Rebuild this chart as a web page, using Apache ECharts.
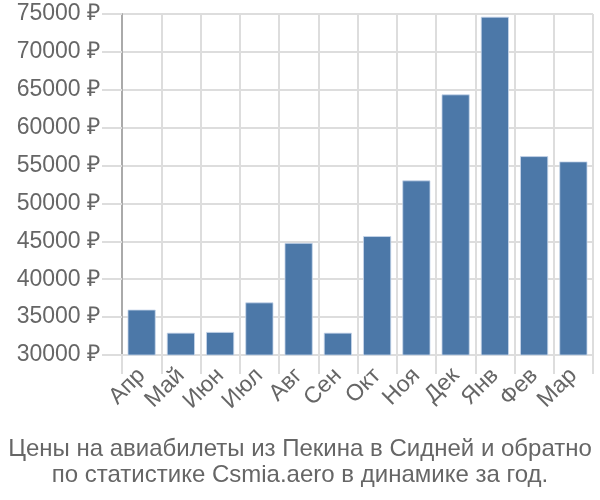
<!DOCTYPE html>
<html><head><meta charset="utf-8">
<script src="https://cdn.jsdelivr.net/npm/echarts@6/dist/echarts.min.js"></script>
<style>html,body{margin:0;padding:0;background:#fff}#c{width:600px;height:500px}</style>
</head><body><div id="c"></div>
<script>
const categories = ['Апр','Май','Июн','Июл','Авг','Сен','Окт','Ноя','Дек','Янв','Фев','Мар'];
const prices = [36000, 32950, 33050, 36950, 44800, 32950, 45700, 53050, 64400, 74650, 56250, 55550];
const titleLines = ['Цены на авиабилеты из Пекина в Сидней и обратно', 'по статистике Csmia.aero в динамике за год.'];
const yMin = 30000, yMax = 75000, yStep = 5000;

const chart = echarts.init(document.getElementById('c'));
chart.setOption({
  animation: false,
  title: {
    text: titleLines.join('\n'),
    left: 'center', top: 431,
    textStyle: { fontFamily: 'Liberation Sans', fontSize: 24, fontWeight: 'normal', color: '#666', lineHeight: 26 }
  },
  grid: { left: 122, right: 7, top: 14, bottom: 145, containLabel: false },
  xAxis: {
    type: 'category', data: categories, boundaryGap: true,
    axisLine: { show: true, lineStyle: { color: '#ddd', width: 2 } },
    axisTick: { show: true, length: 19, lineStyle: { color: '#ddd', width: 2 } },
    splitLine: { show: true, lineStyle: { color: '#ddd', width: 2 } },
    axisLabel: { rotate: 45, fontFamily: 'Liberation Sans', fontSize: 23, color: '#666', margin: 17, interval: 0 }
  },
  yAxis: {
    type: 'value', min: yMin, max: yMax, interval: yStep,
    axisLine: { show: true, lineStyle: { color: '#aaa', width: 2 } },
    axisTick: { show: true, length: 20, lineStyle: { color: '#ddd', width: 2 } },
    splitLine: { show: true, lineStyle: { color: '#ddd', width: 2 } },
    axisLabel: { formatter: v => v + ' ₽', fontFamily: 'Liberation Sans', fontSize: 23, color: '#666', margin: 22 }
  },
  series: [{
    type: 'bar', data: prices, barCategoryGap: '28%',
    itemStyle: { color: '#4c78a8', borderColor: 'rgba(200,215,235,0.8)', borderWidth: 1 }
  }]
});
</script></body></html>
